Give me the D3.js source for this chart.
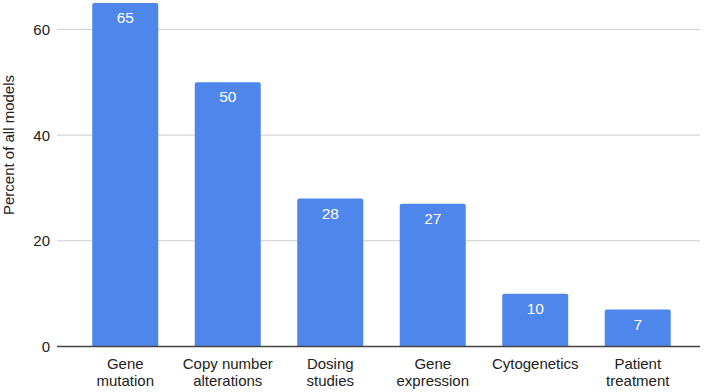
<!DOCTYPE html>
<html>
<head>
<meta charset="utf-8">
<script src="https://cdn.jsdelivr.net/npm/d3@7"></script>
<style>
  body { margin: 0; background: #fff; }
  text { font-family: Arial, "Liberation Sans", sans-serif; }
</style>
</head>
<body>
<svg id="chart"></svg>
<script>
// data
const categories = [["Gene", "mutation"], ["Copy number", "alterations"], ["Dosing", "studies"],
  ["Gene", "expression"], ["Cytogenetics"], ["Patient", "treatment"]];
const values = [65, 50, 28, 27, 10, 7];
const yTicks = [0, 20, 40, 60];

const width = 708;
const height = 392;
const barColor = "#4f86ec";

const svg = d3.select("svg#chart").attr("width", width).attr("height", height);

const x = d3.scaleBand()
  .domain(d3.range(categories.length))
  .range([74, 689])
  .paddingInner(0.356)
  .paddingOuter(0.178);

const y = d3.scaleLinear().domain([0, 60]).range([346.5, 29.4]);

// gridlines
svg.append("g").selectAll("line").data(yTicks.filter(d => d > 0)).enter().append("line")
  .attr("x1", 57).attr("x2", 700)
  .attr("y1", d => y(d)).attr("y2", d => y(d))
  .attr("stroke", "#cccccc").attr("stroke-width", 1);

// y tick labels
svg.append("g").selectAll("text").data(yTicks).enter().append("text")
  .attr("x", 50).attr("y", d => y(d))
  .attr("dy", "0.36em")
  .attr("text-anchor", "end")
  .attr("font-size", 15)
  .attr("fill", "#222")
  .text(d => d);

// y title
svg.append("text")
  .attr("transform", "translate(14," + 145 + ") rotate(-90)")
  .attr("text-anchor", "middle")
  .attr("font-size", 15)
  .attr("fill", "#222")
  .text("Percent of all models");

// bars with rounded top corners
const r = 2;
svg.append("g").selectAll("path").data(values).enter().append("path")
  .attr("fill", barColor)
  .attr("d", (d, i) => {
    const x0 = x(i), x1 = x(i) + x.bandwidth();
    const y0 = y(0), y1 = y(d);
    return `M${x0},${y0}V${y1 + r}Q${x0},${y1} ${x0 + r},${y1}H${x1 - r}Q${x1},${y1} ${x1},${y1 + r}V${y0}Z`;
  });

// value labels
svg.append("g").selectAll("text").data(values).enter().append("text")
  .attr("x", (d, i) => x(i) + x.bandwidth() / 2)
  .attr("y", d => y(d) + 20)
  .attr("text-anchor", "middle")
  .attr("font-family", "Roboto, sans-serif")
  .attr("font-size", 15.5)
  .attr("fill", "#ffffff")
  .text(d => d);

// baseline
svg.append("line")
  .attr("x1", 57).attr("x2", 700)
  .attr("y1", y(0)).attr("y2", y(0))
  .attr("stroke", "#444").attr("stroke-width", 1.5);

// category labels
const cat = svg.append("g").selectAll("text").data(categories).enter().append("text")
  .attr("x", (d, i) => x(i) + x.bandwidth() / 2)
  .attr("y", 369)
  .attr("text-anchor", "middle")
  .attr("font-size", 15)
  .attr("fill", "#222");
cat.selectAll("tspan").data(d => d).enter().append("tspan")
  .attr("x", function () { return d3.select(this.parentNode).attr("x"); })
  .attr("dy", (d, i) => i === 0 ? 0 : 17)
  .text(d => d);
</script>
</body>
</html>
